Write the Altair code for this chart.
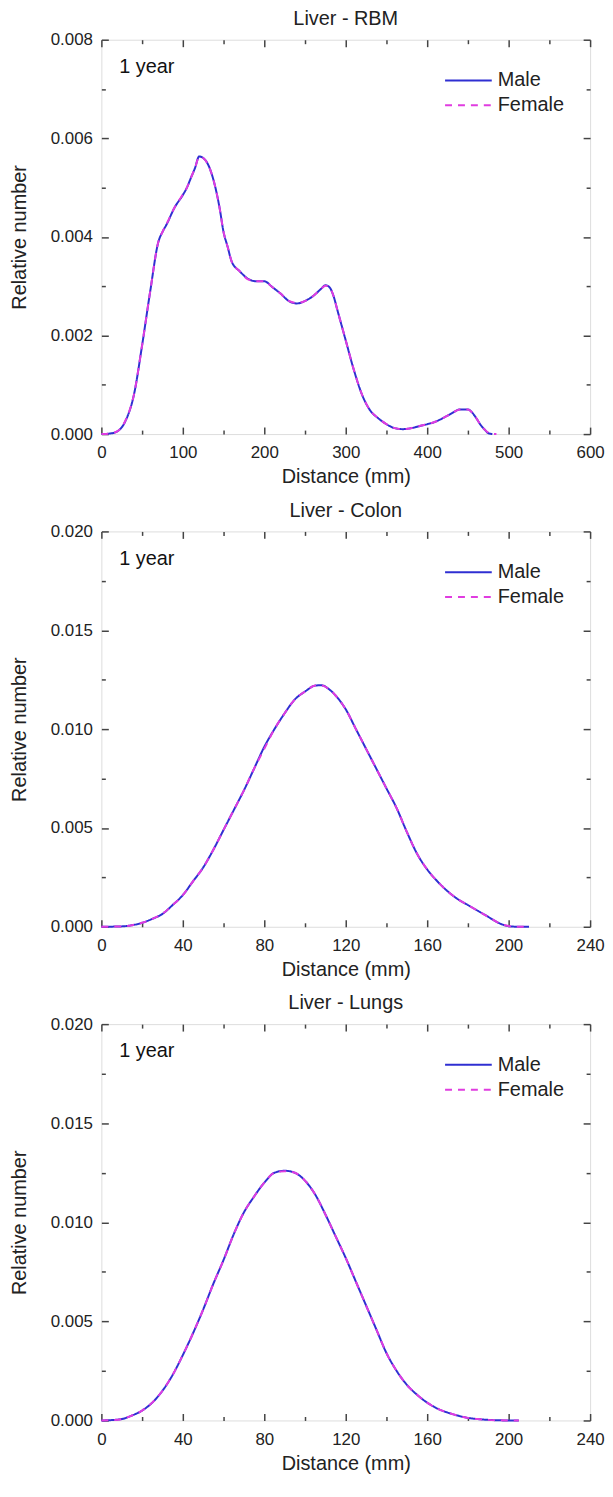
import altair as alt
import pandas as pd

FONT = "Liberation Sans"
BLUE = "#2f2fd2"
MAGENTA = "#e03ce0"

# ---------------- Liver - RBM ----------------
rbm_dist_m = [0, 10, 20, 30, 40, 50, 60, 70, 75, 80, 90, 100, 105, 110, 115, 120, 125, 130, 135, 140,
              145, 150, 155, 160, 170, 180, 190, 200, 210, 220, 230, 240, 250, 260, 270, 275, 280, 285,
              290, 300, 310, 320, 330, 340, 350, 360, 370, 380, 390, 400, 410, 420, 430, 440, 450, 455,
              460, 465, 470, 475, 480]
rbm_val_m = [0.0, 0.00001, 0.00006, 0.00028, 0.0008, 0.0018, 0.0029, 0.0039, 0.0041, 0.00425, 0.0046,
             0.00485, 0.0050, 0.0052, 0.0054, 0.00563, 0.0056, 0.0055, 0.0053, 0.0050, 0.0046, 0.0041,
             0.0038, 0.0035, 0.0033, 0.00315, 0.0031, 0.0031, 0.00298, 0.00285, 0.0027, 0.00265, 0.0027,
             0.0028, 0.00295, 0.00302, 0.00298, 0.0028, 0.0025, 0.0019, 0.0013, 0.0008, 0.00048, 0.00032,
             0.0002, 0.00012, 0.0001, 0.00012, 0.00016, 0.0002, 0.00025, 0.00033, 0.00042, 0.0005, 0.0005,
             0.00044, 0.00033, 0.0002, 0.0001, 0.00002, 0.0]
rbm_dist_f = [0, 10, 20, 30, 40, 50, 60, 70, 75, 80, 90, 100, 105, 110, 115, 120, 125, 130, 135, 140,
              145, 150, 155, 160, 170, 180, 190, 200, 210, 220, 230, 240, 250, 260, 270, 275, 280, 285,
              290, 300, 310, 320, 330, 340, 350, 360, 370, 380, 390, 400, 410, 420, 430, 440, 450, 455,
              460, 465, 470, 475, 480, 485]
rbm_val_f = [0.0, 0.00001, 0.00006, 0.00029, 0.0008, 0.0018, 0.0029, 0.0039, 0.0041, 0.00426, 0.0046,
             0.00486, 0.0050, 0.0052, 0.0054, 0.00562, 0.0056, 0.0055, 0.0053, 0.0050, 0.0046, 0.0041,
             0.0038, 0.0035, 0.0033, 0.00314, 0.0031, 0.0031, 0.00298, 0.00285, 0.0027, 0.00266, 0.0027,
             0.0028, 0.00295, 0.00301, 0.00298, 0.0028, 0.0025, 0.0019, 0.0013, 0.0008, 0.00048, 0.00032,
             0.0002, 0.00012, 0.0001, 0.00012, 0.00016, 0.0002, 0.00025, 0.00033, 0.00042, 0.0005, 0.0005,
             0.00044, 0.00033, 0.0002, 0.0001, 0.00003, 0.0, 0.0]

# ---------------- Liver - Colon ----------------
colon_dist_m = [0, 10, 15, 20, 25, 30, 35, 40, 45, 50, 55, 60, 65, 70, 75, 80, 85, 90, 95, 100, 105, 108,
                112, 115, 120, 125, 130, 135, 140, 145, 150, 155, 160, 165, 170, 175, 180, 185, 190, 195,
                200, 205, 210]
colon_val_m = [0.0, 0.00002, 0.00008, 0.0002, 0.0004, 0.00065, 0.0011, 0.0016, 0.0023, 0.0030, 0.0039,
               0.0049, 0.0059, 0.0069, 0.0080, 0.0091, 0.0100, 0.0108, 0.0115, 0.0119, 0.0122, 0.01222,
               0.0120, 0.0117, 0.0110, 0.0100, 0.0090, 0.0080, 0.0070, 0.0060, 0.0048, 0.0037, 0.0029,
               0.0023, 0.0018, 0.0014, 0.0011, 0.0008, 0.0005, 0.0002, 0.00003, 0.0, 0.0]
colon_dist_f = colon_dist_m
colon_val_f = [0.0, 0.00002, 0.00008, 0.0002, 0.0004, 0.00066, 0.0011, 0.0016, 0.0023, 0.0030, 0.0039,
               0.0049, 0.0059, 0.0069, 0.0080, 0.0090, 0.0100, 0.0108, 0.0115, 0.0119, 0.0122, 0.01221,
               0.0120, 0.0117, 0.0110, 0.0100, 0.0090, 0.0080, 0.0070, 0.0060, 0.0048, 0.0037, 0.0029,
               0.0023, 0.0018, 0.0014, 0.0011, 0.0008, 0.0005, 0.0002, 0.00004, 0.0, 0.0]

# ---------------- Liver - Lungs ----------------
lungs_dist_m = [0, 5, 10, 15, 20, 25, 30, 35, 40, 45, 50, 55, 60, 65, 70, 75, 80, 85, 90, 95, 100, 105,
                110, 115, 120, 125, 130, 135, 140, 145, 150, 155, 160, 165, 170, 175, 180, 185, 190, 195,
                200, 205]
lungs_val_m = [0.0, 0.00002, 0.00007, 0.00025, 0.0005, 0.0009, 0.0015, 0.0023, 0.0033, 0.0044, 0.0056,
               0.0069, 0.0081, 0.0094, 0.0105, 0.0113, 0.0120, 0.0125, 0.0126, 0.0125, 0.0121, 0.0114,
               0.0104, 0.0093, 0.0082, 0.0070, 0.0058, 0.0046, 0.0034, 0.0025, 0.0018, 0.0013, 0.0009,
               0.0006, 0.0004, 0.00025, 0.00013, 0.00007, 0.00003, 0.00001, 0.0, 0.0]
lungs_dist_f = lungs_dist_m
lungs_val_f = [0.0, 0.00002, 0.00007, 0.00025, 0.0005, 0.0009, 0.0015, 0.0023, 0.0033, 0.0044, 0.0056,
               0.0069, 0.0081, 0.0094, 0.0105, 0.0113, 0.0120, 0.0125, 0.01258, 0.0125, 0.0121, 0.0114,
               0.0104, 0.0093, 0.0082, 0.0070, 0.0058, 0.0046, 0.0034, 0.0025, 0.0018, 0.0013, 0.0009,
               0.0006, 0.0004, 0.00025, 0.00013, 0.00007, 0.00003, 0.00001, 0.0, 0.0]

series_names = ["Male", "Female"]
age_label = "1 year"

PLOT_W = 492
MAJ = 7
MIN = 4


def panel(title, dm, vm, df_, vf, x_major, x_minor, y_major, y_minor, height):
    rows = [{"d": d, "v": v, "s": "Male"} for d, v in zip(dm, vm)]
    rows += [{"d": d, "v": v, "s": "Female"} for d, v in zip(df_, vf)]
    data = pd.DataFrame(rows)
    xs = alt.Scale(domain=[x_major[0], x_major[-1]], nice=False, zero=False)
    ys = alt.Scale(domain=[y_major[0], y_major[-1]], nice=False, zero=False)
    base = alt.Chart(data)

    def ax(values, orient, size, labels=False, title=None, fmt=None, lpad=10, tpad=8):
        kw = dict(values=values, orient=orient, offset=-size, tickSize=size, tickWidth=1.5,
                  tickColor="#444", domain=False, grid=False, labels=labels, labelFlush=False,
                  labelOverlap=False, minExtent=0)
        if labels:
            kw.update(format=fmt, labelFontSize=17, labelFont=FONT, labelColor="#222",
                      labelPadding=lpad)
        if title:
            kw.update(title=title, titleFontSize=20, titleFont=FONT, titleColor="#222",
                      titleFontWeight="normal", titlePadding=tpad)
        else:
            kw.update(title=None)
        return alt.Axis(**kw)

    leg = alt.Legend(orient="none", legendX=345, legendY=28.5, title=None, symbolType="stroke",
                     symbolSize=47 * 47, symbolStrokeWidth=2, clipHeight=25, rowPadding=0,
                     padding=0, labelFontSize=20, labelFont=FONT, labelColor="#222", labelOffset=5)

    lines = base.mark_line(strokeWidth=2, interpolate="monotone").encode(
        x=alt.X("d:Q", scale=xs,
                axis=ax(x_major, "bottom", MAJ, True, "Distance (mm)", "d", lpad=11, tpad=6)),
        y=alt.Y("v:Q", scale=ys,
                axis=ax(y_major, "left", MAJ, True, "Relative number", ".3f", lpad=9, tpad=21)),
        color=alt.Color("s:N", scale=alt.Scale(domain=series_names, range=[BLUE, MAGENTA]),
                        legend=leg, sort=series_names),
        strokeDash=alt.StrokeDash("s:N", scale=alt.Scale(domain=series_names, range=[[1, 0], [7, 6]]),
                                  legend=leg, sort=series_names),
        order=alt.Order("d:Q"),
    )
    minor_bl = base.mark_point(opacity=0).encode(
        x=alt.X("d:Q", scale=xs, axis=ax(x_minor, "bottom", MIN)),
        y=alt.Y("v:Q", scale=ys, axis=ax(y_minor, "left", MIN)),
    )
    major_tr = base.mark_point(opacity=0).encode(
        x=alt.X("d:Q", scale=xs, axis=ax(x_major, "top", MAJ)),
        y=alt.Y("v:Q", scale=ys, axis=ax(y_major, "right", MAJ)),
    )
    minor_tr = base.mark_point(opacity=0).encode(
        x=alt.X("d:Q", scale=xs, axis=ax(x_minor, "top", MIN)),
        y=alt.Y("v:Q", scale=ys, axis=ax(y_minor, "right", MIN)),
    )
    label = alt.Chart(pd.DataFrame({"t": [age_label]})).mark_text(
        align="left", baseline="middle", fontSize=20, font=FONT, color="#111"
    ).encode(x=alt.value(18), y=alt.value(27.5), text="t:N")

    return alt.layer(minor_bl, major_tr, minor_tr, lines, label).resolve_axis(
        x="independent", y="independent"
    ).properties(
        width=PLOT_W, height=height,
        title=alt.TitleParams(title, fontSize=20, font=FONT, fontWeight="normal", color="#222",
                              anchor="middle", offset=2),
    )


p1 = panel("Liver - RBM", rbm_dist_m, rbm_val_m, rbm_dist_f, rbm_val_f,
           [0, 100, 200, 300, 400, 500, 600], [50, 150, 250, 350, 450, 550],
           [0.0, 0.002, 0.004, 0.006, 0.008], [0.001, 0.003, 0.005, 0.007], 397)
p2 = panel("Liver - Colon", colon_dist_m, colon_val_m, colon_dist_f, colon_val_f,
           [0, 40, 80, 120, 160, 200, 240], [20, 60, 100, 140, 180, 220],
           [0.0, 0.005, 0.010, 0.015, 0.020], [0.0025, 0.0075, 0.0125, 0.0175], 398)
p3 = panel("Liver - Lungs", lungs_dist_m, lungs_val_m, lungs_dist_f, lungs_val_f,
           [0, 40, 80, 120, 160, 200, 240], [20, 60, 100, 140, 180, 220],
           [0.0, 0.005, 0.010, 0.015, 0.020], [0.0025, 0.0075, 0.0125, 0.0175], 399)

chart = alt.vconcat(p1, p2, p3, spacing=12).resolve_scale(
    color="independent", strokeDash="independent"
).resolve_legend(
    color="independent", strokeDash="independent"
).properties(
    padding={"left": 0, "top": -5, "right": 0, "bottom": 0}
).configure_view(stroke="#444", strokeWidth=1.5).configure(background="white")

chart.save("out.html", embed_options={"renderer": "svg", "actions": False})
